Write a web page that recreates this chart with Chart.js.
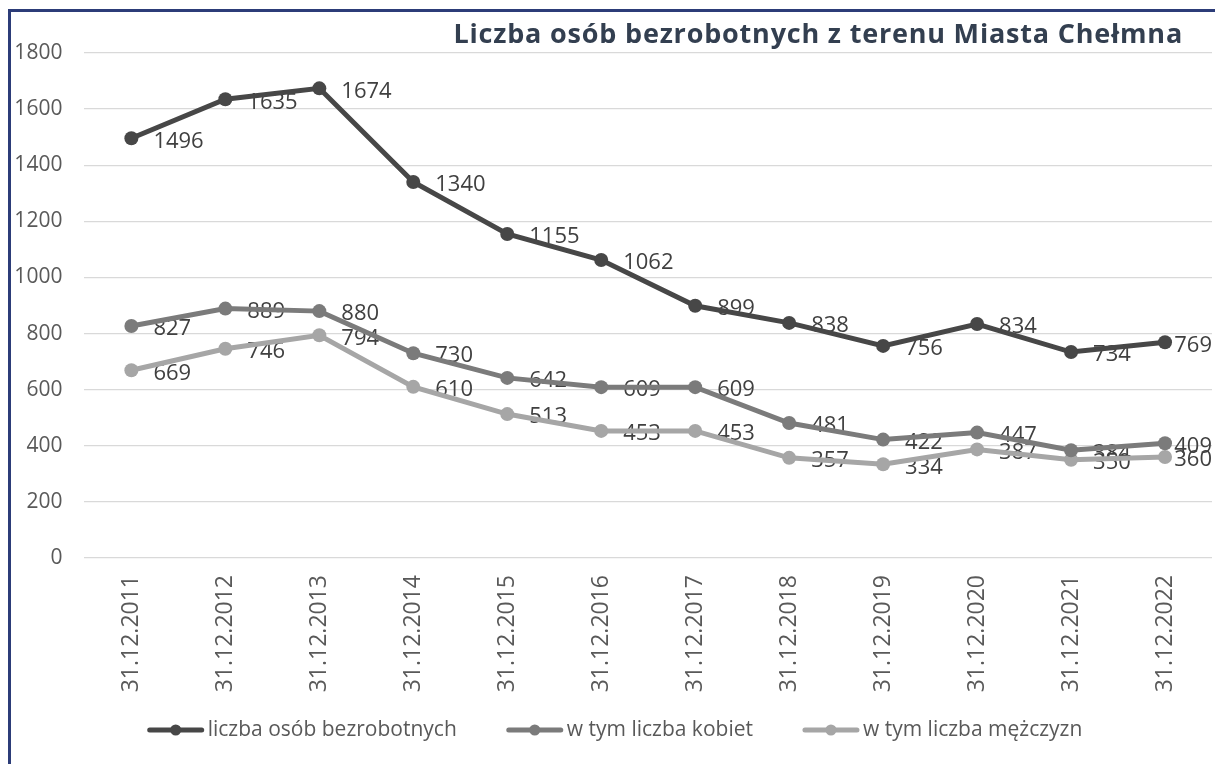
<!DOCTYPE html>
<html>
<head>
<meta charset="utf-8">
<title>Liczba osób bezrobotnych z terenu Miasta Chełmna</title>
<script src="https://cdn.jsdelivr.net/npm/chart.js@4.4.1/dist/chart.umd.min.js"></script>
<style>
    html, body { margin:0; padding:0; background:#fff; overflow:hidden; }
    body { width:1215px; height:764px; position:relative; font-family:"Open Sans", sans-serif; }
    #frame { position:absolute; left:8px; top:9px; width:1240px; height:790px;
             border-left:3px solid #2C3C78; border-top:3px solid #2C3C78; }
    #frame canvas { position:absolute; left:0; top:0; }
    #title { position:absolute; right:32px; top:16px; font-size:27px; font-weight:700;
             letter-spacing:0.8px; color:#333F50; white-space:nowrap; line-height:34px; }
</style>
</head>
<body>
<div id="frame"><canvas id="chart" width="1208" height="752"></canvas></div>
<div id="title">Liczba osób bezrobotnych z terenu Miasta Chełmna</div>
<script>
// dane na koniec roku
const dates = ["31.12.2011","31.12.2012","31.12.2013","31.12.2014","31.12.2015","31.12.2016",
               "31.12.2017","31.12.2018","31.12.2019","31.12.2020","31.12.2021","31.12.2022"];
const bezrobotni = [1496,1635,1674,1340,1155,1062,899,838,756,834,734,769];
const kobiety    = [827,889,880,730,642,609,609,481,422,447,384,409];
const mezczyzni  = [669,746,794,610,513,453,453,357,334,387,350,360];
const seriesNames = ["liczba osób bezrobotnych","w tym liczba kobiet","w tym liczba mężczyzn"];
const seriesColors = ["#474747","#7b7b7b","#a6a6a6"];
const yTicks = [0,200,400,600,800,1000,1200,1400,1600,1800];

const FONT = '"Open Sans", sans-serif';

// etykiety wartości po prawej stronie punktu (pod liniami)
const valueLabels = {
    id: "valueLabels",
    beforeDatasetsDraw(chart){
        const ctx = chart.ctx;
        const limit = 1201;
        ctx.save();
        ctx.font = "22px " + FONT;
        ctx.fillStyle = "#404040";
        ctx.textAlign = "left";
        ctx.textBaseline = "middle";
        chart.data.datasets.forEach(function(ds, i){
            chart.getDatasetMeta(i).data.forEach(function(pt, j){
                let txt = String(ds.data[j]);
                let w = ctx.measureText(txt).width;
                let x = pt.x + 22;
                if(x + w > limit) x = limit - w;
                ctx.fillText(txt, x, pt.y + 3);
            });
        });
        ctx.restore();
    }
};

// legenda na dole: linia z kropką + opis
const lineLegend = {
    id: "lineLegend",
    afterDraw(chart){
        const ctx = chart.ctx;
        const y = 718, markW = 56, gap = 4, spacing = 50;
        ctx.save();
        ctx.font = "21px " + FONT;
        ctx.textBaseline = "middle";
        ctx.textAlign = "left";
        let widths = chart.data.datasets.map(ds => ctx.measureText(ds.label).width);
        let total = widths.reduce((a, w) => a + markW + gap + w, 0) + spacing * (widths.length - 1);
        let x = chart.width / 2 - total / 2;
        chart.data.datasets.forEach(function(ds, i){
            ctx.strokeStyle = ds.borderColor;
            ctx.fillStyle = ds.borderColor;
            ctx.lineWidth = 5;
            ctx.lineCap = "round";
            ctx.beginPath(); ctx.moveTo(x + 2, y); ctx.lineTo(x + markW - 2, y); ctx.stroke();
            ctx.beginPath(); ctx.arc(x + markW / 2, y, 5.5, 0, Math.PI * 2); ctx.fill();
            ctx.fillStyle = "#595959";
            ctx.fillText(ds.label, x + markW + gap, y);
            x += markW + gap + widths[i] + spacing;
        });
        ctx.restore();
    }
};

function dataset(i, values){
    return {
        label: seriesNames[i],
        data: values,
        borderColor: seriesColors[i],
        backgroundColor: seriesColors[i],
        pointBackgroundColor: seriesColors[i],
        borderWidth: 5,
        pointRadius: 7,
        pointBorderWidth: 0,
        pointHoverRadius: 7,
        tension: 0
    };
}

new Chart(document.getElementById("chart"), {
    type: "line",
    data: {
        labels: dates,
        datasets: [dataset(0, bezrobotni), dataset(1, kobiety), dataset(2, mezczyzni)]
    },
    options: {
        responsive: false,
        animation: false,
        devicePixelRatio: 1,
        layout: { padding: { top: 41, bottom: 56, left: 0, right: 0 } },
        scales: {
            x: {
                offset: true,
                grid: { display: false, drawTicks: false },
                border: { display: false },
                ticks: { color: "#595959", font: { family: FONT, size: 23 },
                         minRotation: 90, maxRotation: 90, padding: 17, autoSkip: false },
                afterFit(s){ s.height = 150; }
            },
            y: {
                min: 0, max: 1800,
                afterBuildTicks(s){ s.ticks = yTicks.map(v => ({ value: v })); },
                grid: { color: "#d9d9d9", lineWidth: 1.3, drawTicks: false },
                border: { display: false },
                ticks: { color: "#595959", font: { family: FONT, size: 21 }, padding: 22,
                         callback: v => String(v) },
                afterFit(s){ s.width = 73.4; }
            }
        },
        plugins: {
            title: { display: false },
            tooltip: { enabled: false },
            legend: { display: false }
        }
    },
    plugins: [valueLabels, lineLegend]
});
</script>
</body>
</html>
